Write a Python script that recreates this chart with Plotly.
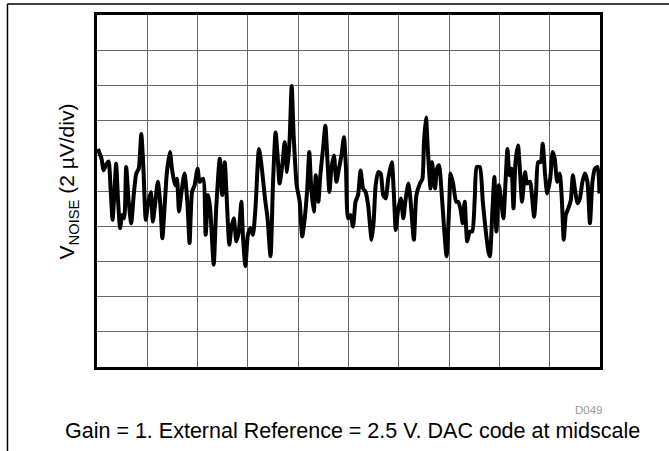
import plotly.graph_objects as go

# time axis in divisions (10 div full scale), noise in µV (2 µV/div)
time_div = [0.02,0.09,0.13,0.19,0.23,0.27,0.31,0.35,0.38,0.42,0.46,0.50,0.54,0.58,0.63,0.68,0.73,0.78,0.83,0.88,
0.92,0.97,1.01,1.07,1.11,1.16,1.21,1.26,1.30,1.35,1.39,1.45,1.49,1.55,1.59,1.63,1.68,1.74,1.80,1.84,
1.89,1.94,2.00,2.04,2.11,2.16,2.21,2.25,2.32,2.37,2.44,2.49,2.54,2.57,2.63,2.67,2.72,2.77,2.82,2.87,
2.90,2.95,3.00,3.05,3.10,3.15,3.22,3.27,3.34,3.39,3.45,3.50,3.55,3.59,3.63,3.69,3.73,3.78,3.83,3.87,
3.91,3.97,4.03,4.08,4.13,4.18,4.22,4.26,4.31,4.35,4.40,4.44,4.50,4.54,4.58,4.62,4.66,4.71,4.76,4.81,
4.86,4.91,4.95,4.99,5.04,5.09,5.14,5.19,5.24,5.29,5.34,5.39,5.46,5.50,5.54,5.59,5.64,5.69,5.74,5.79,
5.86,5.90,5.94,5.99,6.04,6.09,6.13,6.19,6.23,6.30,6.35,6.42,6.47,6.50,6.54,6.58,6.63,6.66,6.72,6.76,
6.80,6.85,6.90,6.95,7.00,7.03,7.08,7.14,7.18,7.23,7.27,7.31,7.36,7.41,7.46,7.51,7.55,7.61,7.67,7.73,
7.78,7.81,7.86,7.90,7.94,7.99,8.03,8.08,8.12,8.16,8.20,8.24,8.28,8.32,8.37,8.41,8.45,8.51,8.55,8.61,
8.64,8.69,8.73,8.77,8.82,8.86,8.91,8.95,9.01,9.06,9.10,9.15,9.20,9.24,9.28,9.32,9.37,9.42,9.46,9.50,
9.55,9.60,9.65,9.70,9.75,9.80,9.85,9.90,9.95,9.99]

noise_uv = [2.39,1.83,1.17,1.55,1.68,0.14,-1.64,0.14,1.55,-0.61,-2.11,-1.36,-1.55,1.36,-0.61,-1.83,-0.23,0.99,1.27,3.24,
1.46,-1.64,-0.80,-0.05,-1.74,-0.61,0.52,-0.80,-2.68,-0.61,1.08,2.21,1.27,0.33,0.70,-1.17,-0.05,0.99,-0.80,-2.96,
-0.05,0.33,1.27,0.52,0.70,-2.49,-0.23,-0.99,-4.18,-0.99,1.83,-0.23,1.64,0.14,-3.05,-2.11,-1.55,-2.86,-2.30,-0.61,
-2.49,-4.27,-2.49,-2.11,-2.49,-0.99,2.39,1.46,-0.42,-1.55,-3.71,0.52,3.33,2.02,0.42,1.64,2.77,1.08,2.96,5.96,
3.15,0.33,-0.61,-2.58,-1.55,0.14,2.21,0.14,-1.17,0.89,-0.61,0.89,2.58,3.71,1.83,-0.05,1.27,2.02,0.52,1.27,
2.02,3.05,1.27,-1.55,-1.36,-2.02,-0.61,-0.23,1.17,0.14,-0.05,-0.80,-2.77,-1.74,0.33,1.08,0.99,-0.23,-0.42,0.70,
1.64,-0.05,-2.21,-0.99,-0.42,-1.55,-0.61,0.42,-0.42,-2.77,-0.23,0.42,0.70,2.77,4.18,2.21,0.14,1.64,0.14,1.27,
1.46,-0.05,-2.11,-3.71,-0.99,0.99,0.42,-0.61,-0.61,-1.08,-1.83,-0.61,-2.86,-2.30,-2.30,-0.42,1.36,1.36,-0.61,-2.30,
-3.43,-3.71,-1.17,0.80,-2.30,0.33,-0.42,-1.55,0.42,2.39,0.89,1.27,-0.99,1.64,2.58,1.08,-0.61,1.08,0.42,0.52,
-0.05,-1.46,-0.05,1.64,1.64,2.68,0.89,-0.14,0.70,2.21,1.83,0.52,0.99,-0.42,-2.77,-1.36,-0.99,-0.52,0.89,0.14,
-0.70,-0.42,0.52,0.99,0.52,-1.83,0.52,1.27,1.36,-0.14]

y_label = "V<sub>NOISE</sub> (2 µV/div)"
footnote = "Gain = 1. External Reference = 2.5 V. DAC code at midscale"
fig_id = "D049"

fig = go.Figure()
fig.add_trace(go.Scatter(x=time_div, y=noise_uv, mode="lines",
                         line=dict(color="black", width=4, shape="spline", smoothing=0.6),
                         hoverinfo="skip"))

fig.update_layout(
    width=669, height=451,
    margin=dict(l=97, r=69, t=12, b=84),
    paper_bgcolor="white", plot_bgcolor="white",
    showlegend=False,
    font=dict(family="Liberation Sans, Arial, sans-serif", color="black"),
    xaxis=dict(range=[0, 10], dtick=1, tick0=0, showticklabels=False, ticks="",
               showgrid=True, gridcolor="#666666", gridwidth=1, zeroline=False,
               showline=True, linecolor="black", linewidth=3, mirror=True),
    yaxis=dict(range=[-10, 10], dtick=2, tick0=0, showticklabels=False, ticks="",
               showgrid=True, gridcolor="#666666", gridwidth=1, zeroline=False,
               showline=True, linecolor="black", linewidth=3, mirror=True),
)

# outer frame (left and top edges of the figure box)
fig.add_shape(type="line", xref="paper", yref="paper", x0=-0.178, x1=-0.178, y0=-0.24, y1=1.031,
              line=dict(color="black", width=1.5))
fig.add_shape(type="line", xref="paper", yref="paper", x0=-0.178, x1=1.14, y0=1.031, y1=1.031,
              line=dict(color="black", width=1.5))

fig.add_annotation(text=y_label, xref="paper", yref="paper", x=-0.026, y=0.527,
                   xanchor="right", yanchor="middle", textangle=-90, showarrow=False,
                   font=dict(size=21, color="black"))
fig.add_annotation(text=fig_id, xref="paper", yref="paper", x=1.01, y=-0.122,
                   xanchor="right", yanchor="middle", showarrow=False,
                   font=dict(size=11.5, color="#999999"))
fig.add_annotation(text=footnote, xref="paper", yref="paper", x=-0.068, y=-0.183,
                   xanchor="left", yanchor="middle", showarrow=False,
                   font=dict(size=21.5, color="black"))

fig.write_html("out.html", config={"displayModeBar": False},
               post_script="document.body.style.margin='0px';")
